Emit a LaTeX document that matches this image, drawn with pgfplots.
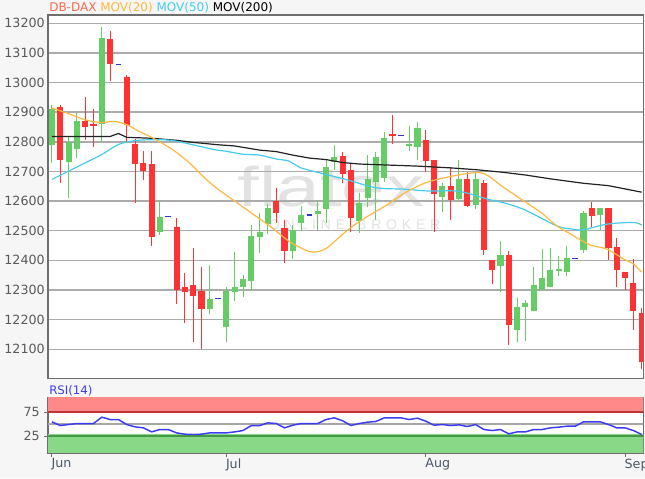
\documentclass[border=0pt]{standalone}
\usepackage{fontspec}
\setmainfont{DejaVu Sans}
\newfontfamily\wmfont{Liberation Sans}
\usepackage{pgfplots}
\usepackage{pgfplotstable}
\pgfplotsset{compat=1.18}

\definecolor{cgreen}{HTML}{66CC66}
\definecolor{cred}{HTML}{FF3333}
\definecolor{cma20}{HTML}{FFB840}
\definecolor{cma50}{HTML}{44CCEE}
\definecolor{cma200}{HTML}{222222}
\definecolor{cgrid}{HTML}{ABABAB}
\definecolor{cframe}{HTML}{6E6E6E}
\definecolor{ctick}{HTML}{5A5A5A}
\definecolor{cmonth}{HTML}{4A5868}
\definecolor{cbg}{HTML}{F6F6F6}
\definecolor{cdax}{HTML}{F86A4A}
\definecolor{crsi}{HTML}{3B3BF5}
\definecolor{cflat}{HTML}{3333DD}
\definecolor{cob}{HTML}{FF8888}
\definecolor{cos}{HTML}{88D888}
\definecolor{cwm}{HTML}{E2E2E2}

% candles: index, open, high, low, close
\pgfplotstableread{
i o h l c
0 12789 12923 12727 12912
2 12733 12820 12611 12800
3 12775 12898 12744 12869
6 12861 13189 12803 13151
13 12495 12604 12486 12548
19 12236 12384 12219 12270
21 12176 12311 12126 12297
22 12292 12427 12264 12309
23 12311 12350 12278 12336
24 12331 12521 12298 12483
25 12478 12561 12426 12497
26 12523 12590 12490 12576
29 12432 12520 12405 12504
30 12527 12584 12500 12553
32 12558 12603 12502 12567
33 12573 12738 12525 12716
34 12733 12790 12705 12750
37 12534 12626 12491 12595
38 12611 12757 12581 12673
39 12665 12766 12536 12749
40 12679 12833 12665 12814
43 12786 12852 12768 12792
44 12783 12867 12740 12845
47 12615 12660 12562 12652
49 12607 12740 12598 12673
51 12587 12699 12573 12673
54 12382 12466 12292 12419
56 12164 12273 12125 12243
57 12243 12267 12128 12257
58 12228 12377 12228 12316
59 12301 12438 12301 12340
60 12309 12441 12309 12368
61 12368 12416 12346 12370
62 12360 12447 12346 12407
64 12435 12568 12426 12561
66 12553 12576 12503 12576
}\greens

\pgfplotstableread{
i o h l c
1 12917 12925 12662 12740
4 12869 12951 12805 12850
5 12861 12912 12781 12855
7 13147 13175 13004 13061
9 13018 13024 12800 12856
10 12792 12811 12592 12724
11 12729 12770 12671 12702
12 12725 12770 12450 12478
15 12512 12542 12254 12299
16 12310 12359 12189 12292
17 12318 12443 12124 12281
18 12297 12379 12100 12236
27 12600 12645 12525 12559
28 12508 12536 12392 12430
35 12751 12765 12662 12690
36 12704 12725 12497 12542
41 12825 12889 12792 12820
45 12805 12839 12699 12736
46 12738 12740 12495 12624
48 12652 12716 12536 12604
50 12673 12699 12581 12585
52 12662 12671 12419 12435
53 12400 12400 12321 12366
55 12419 12430 12113 12181
65 12576 12598 12514 12548
67 12575 12578 12402 12441
68 12444 12474 12310 12369
69 12360 12360 12300 12339
70 12324 12404 12165 12229
71 12223 12240 12033 12058
}\reds

% days without range
\pgfplotstableread{
i v
8 13061
14 12548
20 12270
31 12553
42 12822
63 12407
}\flats

\pgfplotstableread{
i r
0 54.9
1 47.2
2 49.3
3 51.4
4 51.4
5 51.4
6 64.6
7 59.7
8 59.7
9 49.3
10 44.4
11 42.4
12 34.0
13 38.9
14 38.9
15 31.9
16 29.2
17 28.5
18 29.2
19 31.9
20 31.9
21 31.9
22 34.0
23 36.8
24 47.2
25 47.2
26 52.8
27 51.4
28 42.4
29 47.9
30 51.4
31 51.4
32 51.4
33 59.7
34 63.2
35 57.0
36 47.2
37 51.4
38 54.2
39 55.6
40 63.2
41 63.2
42 63.2
43 59.7
44 62.5
45 56.3
46 47.9
47 49.3
48 47.2
49 48.6
50 45.1
51 49.3
52 38.9
53 36.8
54 38.9
55 29.9
56 34.0
57 34.0
58 38.9
59 38.9
60 42.4
61 43.8
62 45.8
63 45.8
64 54.9
65 54.9
66 54.9
67 49.3
68 42.4
69 42.4
70 36.8
71 28.5
}\rsi

\pgfplotsset{
  body/.style={draw=none, mark=none,
    error bars/.cd, y dir=both, y explicit, error mark=none,
    error bar style={draw=#1, line width=4.6pt}},
  wick/.style={draw=none, mark=none,
    error bars/.cd, y dir=both, y explicit, error mark=none,
    error bar style={draw=#1, line width=0.75pt}},
}

\begin{document}
\begin{tikzpicture}
\useasboundingbox (0,0) rectangle (483.75pt,358.5pt);
\fill[cbg] (0,0) rectangle (483.75pt,358.5pt);
\fill[white] (36pt,74.775pt) rectangle (482.5pt,347.275pt);
\node[anchor=base, cwm, font=\wmfont\fontsize{42}{42}\selectfont, xscale=1.4]
  at (248.25pt,203.25pt) {flatex};
\def\sp{\kern3.6pt}
\node[anchor=base, cwm, font=\wmfont\fontsize{10.5}{12}\selectfont]
  at (266pt,186.5pt) {O\sp N\sp L\sp I\sp N\sp E\kern9pt B\sp R\sp O\sp K\sp E\sp R};

\begin{axis}[
  at={(36pt,74.775pt)}, anchor=south west,
  width=446.5pt, height=272.5pt, scale only axis,
  xmin=-0.48, xmax=71.2, ymin=12002, ymax=13228,
  axis line style={cframe, line width=0.9pt},
  xtick=\empty,
  ytick={12100,12200,...,13200},
  scaled y ticks=false,
  ymajorgrids, grid style={cgrid, line width=1.1pt},
  major tick length=0pt,
  yticklabel style={font=\fontsize{9.5}{11}\selectfont, color=ctick, inner sep=0pt, xshift=-2.25pt},
  /pgf/number format/assume math mode=true,
  /pgf/number format/set thousands separator={},
]
\addplot[wick=cgreen] table[x=i, y expr={(\thisrow{h}+\thisrow{l})/2}, y error expr={(\thisrow{h}-\thisrow{l})/2}] {\greens};
\addplot[wick=cred] table[x=i, y expr={(\thisrow{h}+\thisrow{l})/2}, y error expr={(\thisrow{h}-\thisrow{l})/2}] {\reds};
\addplot[body=cgreen] table[x=i, y expr={(\thisrow{o}+\thisrow{c})/2}, y error expr={max(abs(\thisrow{c}-\thisrow{o})/2,2.5)}] {\greens};
\addplot[body=cred] table[x=i, y expr={(\thisrow{o}+\thisrow{c})/2}, y error expr={max(abs(\thisrow{c}-\thisrow{o})/2,2.5)}] {\reds};
\addplot[draw=none, mark=none, error bars/.cd, x dir=both, x fixed=0.35, error mark=none,
  error bar style={draw=cflat, line width=0.9pt}] table[x=i, y=v] {\flats};

% MOV(200)
\addplot[cma200, line width=0.9pt] coordinates {
(0,12818) (7,12818) (8,12828) (9,12815) (12,12812) (15,12805) (17,12798) (20,12790)
(22,12786) (25,12772) (27,12767) (29,12755) (31,12745) (33,12740) (35,12730) (37,12725)
(40,12722) (44,12718) (48,12712) (51,12706) (54,12698) (57,12688) (60,12675) (64,12660)
(67,12652) (71,12630)};
% MOV(50)
\addplot[cma50, line width=0.9pt, smooth] coordinates {
(0,12673) (2,12701) (4,12729) (6,12757) (8,12791) (10,12804) (12,12807) (14,12806)
(16,12796) (19.5,12774) (21,12768) (23,12758) (25,12755) (27,12742) (28.5,12735) (30,12712)
(32.4,12694) (35.5,12672) (39,12645) (42.5,12640) (45.3,12634) (49,12633) (52.5,12606)
(54,12597) (56.8,12572) (60.8,12516) (62.8,12505) (64,12503) (66.8,12522) (70,12528) (71,12519)};
% MOV(20)
\addplot[cma20, line width=0.9pt, smooth] coordinates {
(0,12914) (2,12895) (4,12874) (6,12865) (7.5,12869) (9,12858) (10.5,12835) (12,12815)
(14.5,12774) (16.5,12730) (18.5,12675) (20,12640) (22,12600) (24.5,12550) (26.5,12510)
(28.5,12465) (30.5,12435) (31.5,12428) (33,12440) (35.5,12500) (37.5,12540) (40.5,12590)
(42.5,12628) (45,12662) (47.5,12680) (50,12693) (51.5,12696) (52.5,12686) (54,12654)
(56.5,12606) (58.8,12563) (60.8,12516) (62.8,12483) (64.8,12452) (66.8,12438) (68.8,12405)
(70,12388) (71,12360)};
\end{axis}

\node[anchor=base west, inner sep=0pt, font=\fontsize{9}{11}\selectfont] at (36.75pt,349.5pt)
  {\textcolor{cdax}{DB-DAX} \textcolor{cma20}{MOV(20)} \textcolor{cma50}{MOV(50)} \textcolor{black}{MOV(200)}};
\node[anchor=base west, inner sep=0pt, font=\fontsize{8.8}{10}\selectfont, crsi] at (36.75pt,62.5pt) {RSI(14)};

\begin{axis}[
  at={(36pt,18.75pt)}, anchor=south west,
  width=446.5pt, height=41.775pt, scale only axis,
  xmin=-0.48, xmax=71.2, ymin=-10, ymax=106,
  axis background/.style={fill=white},
  axis line style={cframe, line width=0.9pt},
  xtick={0,21,45,69}, xticklabels={Jun,Jul,Aug,Sep},
  ytick={25,75},
  tick pos=left, tick align=outside, major tick length=3pt,
  tick style={cframe, line width=0.75pt},
  xticklabel style={anchor=north west, inner sep=0pt, xshift=-0.5pt, yshift=-1pt,
    color=cmonth, font=\fontsize{9.5}{11}\selectfont},
  yticklabel style={anchor=east, inner sep=0pt, xshift=-3pt,
    color=ctick, font=\fontsize{9.5}{11}\selectfont},
  /pgf/number format/assume math mode=true,
]
\addplot[draw=none, fill=cob] coordinates {(-1,75) (72,75) (72,106) (-1,106)} -- cycle;
\addplot[draw=none, fill=cos] coordinates {(-1,-10) (72,-10) (72,30) (-1,30)} -- cycle;
\addplot[color=red!55!black!60!cob, line width=1.1pt] coordinates {(-1,75) (72,75)};
\addplot[color=gray!70, line width=1.1pt] coordinates {(-1,50) (72,50)};
\addplot[color=green!35!black!50!cos, line width=1.1pt] coordinates {(-1,25) (72,25)};
\addplot[crsi, line width=1.1pt] table[x=i, y=r] {\rsi};
\end{axis}
\end{tikzpicture}
\end{document}
